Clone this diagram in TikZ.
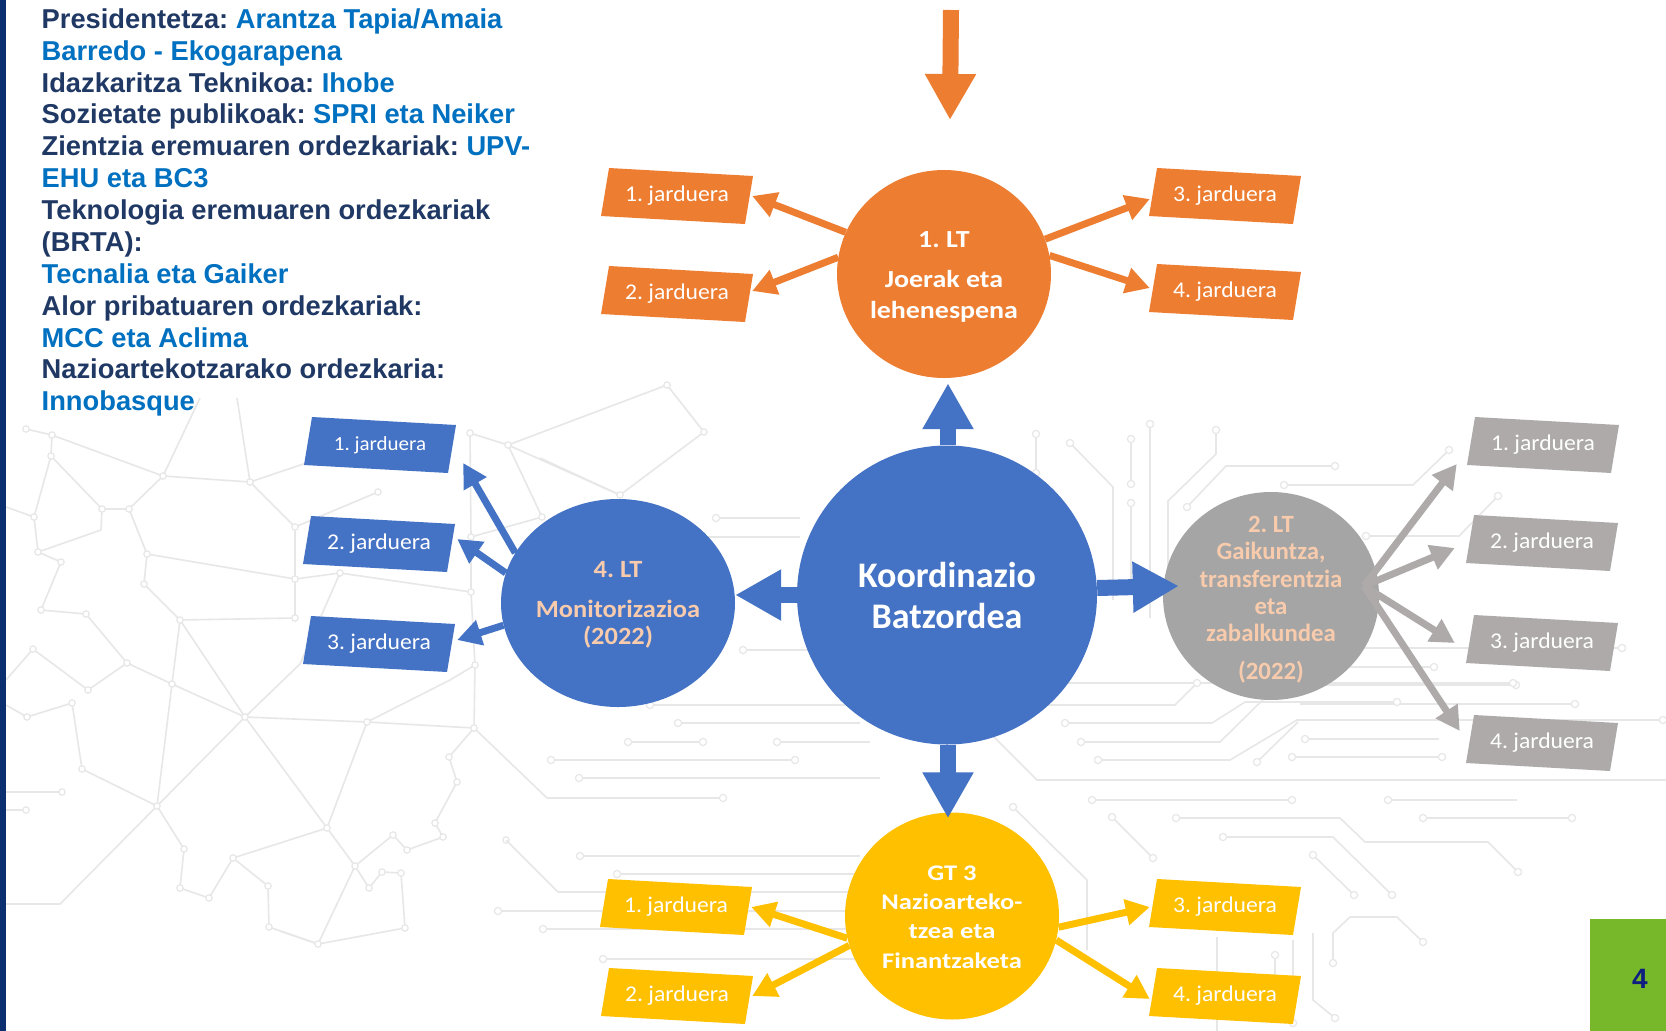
\documentclass[tikz,border=0pt]{standalone}
\usepackage{fontspec}
\setmainfont{Carlito}
\newfontfamily\fArial{Liberation Sans}
\newfontfamily\fA{Carlito}[FakeStretch=1.14]
\newfontfamily\fB{Carlito}[FakeStretch=1.065]
\newfontfamily\fC{Carlito}[FakeStretch=1.19]
\newfontfamily\fJ{Carlito}[FakeStretch=1.05]
\usetikzlibrary{arrows.meta,shapes.geometric}
\definecolor{cOrange}{HTML}{ED7D31}
\definecolor{cBlue}{HTML}{4472C4}
\definecolor{cGrayC}{HTML}{A5A5A5}
\definecolor{cGrayB}{HTML}{AEAAAA}
\definecolor{cYellow}{HTML}{FFC000}
\definecolor{cPeach}{HTML}{F8CBAD}
\definecolor{cNavy}{HTML}{1F3864}
\definecolor{cTextBlue}{HTML}{0070C0}
\definecolor{cGreen}{HTML}{76B82A}
\definecolor{cBar}{HTML}{0B2F6E}
\definecolor{cNum}{HTML}{0F1C80}
\definecolor{cLine}{HTML}{E7E7E7}
\frenchspacing
\newcommand\jardbox[4]{%
  \fill[#3,shift={(#2)}] (-68,-28) -- (76,-20) -- (68,28) -- (-76,20) -- cycle;
  \node[jtxt] (#1) at (#2) {#4};}
\begin{document}
\begin{tikzpicture}[x=1pt,y=-1pt,
  bgl/.style={draw=cLine, line width=1.6pt, line join=round},
  bgdot/.style={draw=cLine, line width=1.2pt, fill=white},
  circ/.style={ellipse, inner sep=0pt, draw=none},
  ctext/.style={inner sep=0pt, align=center},
  jtxt/.style={rectangle, minimum width=150pt, minimum height=48pt, inner sep=0pt, text=white, font=\fJ\fontsize{22.5}{27}\selectfont},
  thinarr/.style={line width=7pt, -{Triangle[length=24pt,width=25pt]}},
  bigarr/.style={line width=16pt, draw=cBlue, -{Triangle[length=46pt,width=48pt]}}
]
\useasboundingbox (0,0) rectangle (1666,1031);
\fill[white] (0,0) rectangle (1666,1031);

% ---------- background network (left) ----------
\draw[bgl] (26,429)--(52,435)--(163,476)--(250,482)--(295,527)--(378,492);
\draw[bgl] (52,435)--(51,456)--(102,509)--(129,509)--(163,476)--(200,398);
\draw[bgl] (51,456)--(34,517)--(38,552)--(101,530)--(102,509);
\draw[bgl] (6,507)--(34,517);
\draw[bgl] (250,482)--(237,398);
\draw[bgl] (250,482)--(330,455);
\draw[bgl] (129,509)--(147,554)--(144,584)--(180,620)--(295,618)--(295,579)--(295,527);
\draw[bgl] (147,554)--(295,579);
\draw[bgl] (180,620)--(172,684)--(157,806);
\draw[bgl] (180,620)--(245,717);
\draw[bgl] (38,552)--(61,562)--(41,610)--(86,614)--(127,663)--(172,684)--(245,717);
\draw[bgl] (127,663)--(88,690)--(33,649)--(6,680);
\draw[bgl] (6,705)--(27,717)--(72,703)--(82,769)--(157,806)--(245,717);
\draw[bgl] (245,717)--(300,664)--(340,573)--(295,579);
\draw[bgl] (340,573)--(471,592);
\draw[bgl] (245,717)--(367,722)--(474,728);
\draw[bgl] (245,717)--(327,828);
\draw[bgl] (157,806)--(60,904)--(6,904);
\draw[bgl] (157,806)--(184,849)--(180,888)--(209,898)--(233,858)--(327,828);
\draw[bgl] (233,858)--(268,886)--(269,927)--(318,944);
\draw[bgl] (6,792)--(62,792);
\draw[bgl] (6,810)--(26,810);
\draw[bgl] (367,722)--(450,680)--(475,665);
\draw[bgl] (470,433)--(471,537)--(471,592)--(475,665)--(474,728);
\draw[bgl] (474,728)--(547,798)--(723,798);
\draw[bgl] (474,728)--(449,757)--(457,782)--(435,823)--(443,837)--(407,850)--(393,835)--(355,866);
\draw[bgl] (367,722)--(327,828)--(355,866)--(369,888)--(382,872)--(401,873)--(405,928)--(318,944)--(280,931);
\draw[bgl] (355,866)--(318,944);
\draw[bgl] (470,433)--(508,445)--(667,385)--(704,432)--(620,495)--(508,445);
\draw[bgl] (508,445)--(542,517)--(471,537);
\draw[bgl] (620,495)--(540,458);
\foreach \p in {(26,429),(52,435),(51,456),(163,476),(250,482),(102,509),(129,509),(34,517),(295,527),(38,552),(61,562),(147,554),(144,584),(295,579),(41,610),(86,614),(180,620),(295,618),(33,649),(127,663),(88,690),(172,684),(72,703),(245,717),(27,717),(82,769),(157,806),(62,792),(26,810),(184,849),(180,888),(209,898),(233,858),(268,886),(269,927),(378,492),(470,433),(508,445),(667,385),(704,432),(620,495),(542,517),(471,537),(471,592),(475,665),(340,573),(367,722),(474,728),(327,828),(449,757),(457,782),(435,823),(443,837),(407,850),(393,835),(355,866),(369,888),(382,872),(401,873),(405,928),(318,944),(506,840)}
  \filldraw[bgdot] \p circle (3.2pt);

% ---------- background circuit (right) ----------
\draw[bgl] (716,518)--(800,518);
\draw[bgl] (700,537)--(800,537);
\draw[bgl] (743,650)--(820,650);
\draw[bgl] (650,705)--(845,705);
\draw[bgl] (678,723)--(860,723);
\draw[bgl] (628,742)--(703,742);
\draw[bgl] (777,742)--(870,742);
\draw[bgl] (551,760)--(795,760);
\draw[bgl] (579,778)--(880,778);
\draw[bgl] (580,856)--(860,856);
\draw[bgl] (617,874)--(860,874);
\draw[bgl] (506,840)--(558,892)--(860,892);
\draw[bgl] (498,911)--(860,911);
\draw[bgl] (543,929)--(860,929);
\draw[bgl] (603,959)--(860,959);
\draw[bgl] (1000,683)--(1513,683);
\draw[bgl] (960,705)--(1175,705)--(1197,683);
\draw[bgl] (1065,723)--(1212,723)--(1245,702)--(1397,702);
\draw[bgl] (1081,742)--(1220,742)--(1283,680);
\draw[bgl] (1098,760)--(1230,760)--(1297,720)--(1663,720);
\draw[bgl] (1298,722)--(1257,762);
\draw[bgl] (1305,739)--(1439,739);
\draw[bgl] (1292,757)--(1442,757);
\draw[bgl] (990,733)--(1037,780)--(1666,780);
\draw[bgl] (1092,800)--(1292,800);
\draw[bgl] (1388,800)--(1517,800);
\draw[bgl] (1176,818)--(1340,818)--(1365,842)--(1488,842)--(1518,872);
\draw[bgl] (1423,818)--(1572,818);
\draw[bgl] (1223,837)--(1333,837)--(1392,895);
\draw[bgl] (1313,855)--(1354,895);
\draw[bgl] (1112,817)--(1153,858);
\draw[bgl] (1013,807)--(1087,880)--(1087,950);
\draw[bgl] (1333,963)--(1333,933)--(1350,917)--(1397,917)--(1423,942);
\draw[bgl] (1313,933)--(1313,1000)--(1335,1018);
\draw[bgl] (1293,940)--(1293,1023);
\draw[bgl] (1275,955)--(1275,980);
\draw[bgl] (1217,937)--(1217,1031);
\draw[bgl] (1036,434)--(1036,473);
\draw[bgl] (1070,443)--(1113,487)--(1113,600);
\draw[bgl] (1131,439)--(1131,484);
\draw[bgl] (1131,503)--(1131,593);
\draw[bgl] (1150,424)--(1150,618);
\draw[bgl] (1216,430)--(1216,454)--(1168,501)--(1168,600);
\draw[bgl] (1335,466)--(1226,466)--(1187,507);
\draw[bgl] (1284,485)--(1413,485)--(1449,450);
\draw[bgl] (1498,496)--(1459,536)--(1366,536);
\draw[bgl] (1622,648)--(1300,648);
\draw[bgl] (1434,667)--(1300,667);
\draw[bgl] (1516,685)--(1300,685);
\draw[bgl] (1575,704)--(1300,704);
\foreach \p in {(723,798),(716,518),(743,650),(650,705),(678,723),(628,742),(703,742),(777,742),(551,760),(795,760),(579,778),(580,856),(617,874),(498,911),(543,929),(603,959),(1197,683),(1065,723),(1397,702),(1081,742),(1283,680),(1098,760),(1305,739),(1292,757),(1442,757),(1092,800),(1292,800),(1388,800),(1176,818),(1518,872),(1423,818),(1572,818),(1223,837),(1392,895),(1313,855),(1354,895),(1112,817),(1153,858),(1013,807),(1333,963),(1423,942),(1335,1018),(1293,1023),(1275,955),(1036,434),(1036,473),(1070,443),(1131,439),(1131,484),(1131,503),(1150,424),(1216,430),(1335,466),(1187,507),(1284,485),(1449,450),(1498,496),(1366,536),(1622,648),(1434,667),(1516,685),(1575,704),(1663,720),(1257,762),(1513,683)}
  \filldraw[bgdot] \p circle (3.6pt);

% ---------- left bar ----------
\fill[cBar] (0,0) rectangle (6,1031);

% ---------- info text ----------
\node[anchor=north west, inner sep=0pt, align=left, text=cNavy,
      font=\fArial\bfseries\fontsize{27.3}{31.87}\selectfont] (info) at (41.5,8.4)
 {Presidentetza: \textcolor{cTextBlue}{Arantza Tapia/Amaia}\\
  \textcolor{cTextBlue}{Barredo - Ekogarapena}\\
  Idazkaritza Teknikoa: \textcolor{cTextBlue}{Ihobe}\\
  Sozietate publikoak: \textcolor{cTextBlue}{SPRI eta Neiker}\\
  Zientzia eremuaren ordezkariak: \textcolor{cTextBlue}{UPV-}\\
  \textcolor{cTextBlue}{EHU eta BC3}\\
  Teknologia eremuaren ordezkariak\\
  (BRTA):\\
  \textcolor{cTextBlue}{Tecnalia eta Gaiker}\\
  Alor pribatuaren ordezkariak:\\
  \textcolor{cTextBlue}{MCC eta Aclima}\\
  Nazioartekotzarako ordezkaria:\\
  \textcolor{cTextBlue}{Innobasque}};

% ---------- incoming top arrow ----------
\coordinate (topA) at (951,10);
\coordinate (topB) at (950,120);
\draw[bigarr, draw=cOrange] (topA) -- (topB);

% ---------- circles ----------
\node[circ, fill=cOrange, minimum width=214pt, minimum height=208pt] (lt1) at (944,274) {};
\node[circ, fill=cBlue, minimum width=300pt, minimum height=299pt] (kb) at (947,595) {};
\node[circ, fill=cBlue, minimum width=234pt, minimum height=208pt] (lt4) at (618,603) {};
\node[circ, fill=cGrayC, minimum width=216pt, minimum height=208pt] (lt2) at (1271,596) {};
\node[circ, fill=cYellow, minimum width=214pt, minimum height=207pt] (gt3) at (952,916) {};

% ---------- activity boxes ----------
\jardbox{o1}{677,196}{cOrange}{1. jarduera}
\jardbox{o2}{677,294}{cOrange}{2. jarduera}
\jardbox{o3}{1225,196}{cOrange}{3. jarduera}
\jardbox{o4}{1225,292}{cOrange}{4. jarduera}
\jardbox{b1}{380,445}{cBlue}{\fontsize{20}{24}\selectfont 1. jarduera}
\jardbox{b2}{379,544}{cBlue}{2. jarduera}
\jardbox{b3}{379,644}{cBlue}{3. jarduera}
\jardbox{g1}{1543,445}{cGrayB}{1. jarduera}
\jardbox{g2}{1542,543}{cGrayB}{2. jarduera}
\jardbox{g3}{1542,643}{cGrayB}{3. jarduera}
\jardbox{g4}{1542,743}{cGrayB}{4. jarduera}
\jardbox{y1}{676,907}{cYellow}{1. jarduera}
\jardbox{y2}{677,996}{cYellow}{2. jarduera}
\jardbox{y3}{1225,907}{cYellow}{3. jarduera}
\jardbox{y4}{1225,996}{cYellow}{4. jarduera}

% ---------- thin arrows ----------
\draw[thinarr, draw=cOrange] (lt1.157.7) -- (o1.east);
\draw[thinarr, draw=cOrange] (lt1.171) -- ([yshift=3pt]o2.east);
\draw[thinarr, draw=cOrange] (lt1.19.6) -- ([yshift=-3pt]o3.west);
\draw[thinarr, draw=cOrange] (lt1.10.7) -- ([yshift=4pt]o4.west);

\draw[thinarr, draw=cBlue] (lt4.154.9) -- ([xshift=8pt,yshift=-18pt]b1.east);
\draw[thinarr, draw=cBlue] (lt4.165.4) -- ([xshift=3pt,yshift=5pt]b2.east);
\draw[thinarr, draw=cBlue] (lt4.191.6) -- ([xshift=3pt,yshift=4pt]b3.east);

\coordinate (gsrc) at ([xshift=93pt,yshift=10pt]lt2.center);
\draw[thinarr, draw=cGrayB] (gsrc) -- ([xshift=-11pt,yshift=-19pt]g1.west);
\draw[thinarr, draw=cGrayB] (gsrc) -- ([xshift=-12pt,yshift=-5pt]g2.west);
\draw[thinarr, draw=cGrayB] (gsrc) -- ([xshift=-12pt]g3.west);
\draw[thinarr, draw=cGrayB] (gsrc) -- ([xshift=-7pt,yshift=12pt]g4.west);

\draw[thinarr, draw=cYellow] (gt3.192.5) -- (y1.east);
\draw[thinarr, draw=cYellow] (gt3.196.2) -- (y2.east);
\draw[thinarr, draw=cYellow] (gt3.-6.6) -- (y3.west);
\draw[thinarr, draw=cYellow] (gt3.-13.4) -- ([yshift=-3pt]y4.west);

% ---------- big blue arrows ----------
\draw[bigarr] ([xshift=1pt]kb.north) -- ([xshift=1pt,yshift=-5pt]kb.north |- lt1.south);
\draw[bigarr] ([xshift=1pt]kb.south) -- ([xshift=1pt,yshift=-6pt]kb.south |- gt3.north);
\draw[bigarr] (kb.west) -- (kb.west -| lt4.east);
\draw[bigarr] ([yshift=7pt]kb.east) -- ([xshift=16pt,yshift=10pt]lt2.west);

% ---------- circle texts ----------
\node[ctext, text=white, font=\fA\bfseries\fontsize{24.5}{31}\selectfont] (lt1t) at (944,277)
  {1. LT\\[9.6pt]Joerak eta\\lehenespena};
\node[ctext, text=white, font=\bfseries\fontsize{36}{41}\selectfont] (kbt) at (947,595)
  {Koordinazio\\Batzordea};
\node[ctext, text=cPeach, font=\fB\bfseries\fontsize{24.8}{27.3}\selectfont] (lt4t) at (618,605)
  {4. LT\\[12pt]Monitorizazioa\\(2022)};
\node[ctext, text=cPeach, font=\bfseries\fontsize{24.8}{27.4}\selectfont] (lt2t) at (1271,599.5)
  {2. LT\\Gaikuntza,\\transferentzia\\eta\\zabalkundea\\[10pt](2022)};
\node[ctext, text=white, font=\fC\bfseries\fontsize{22.3}{29.3}\selectfont] (gt3t) at (952,917)
  {GT 3\\Nazioarteko-\\tzea eta\\Finantzaketa};

% ---------- page number ----------
\fill[cGreen] (1590,919) rectangle (1666,1031);
\node[inner sep=0pt, text=cNum, font=\fArial\bfseries\fontsize{28}{32}\selectfont] (pnum) at (1640,979) {4};
\end{tikzpicture}
\end{document}
